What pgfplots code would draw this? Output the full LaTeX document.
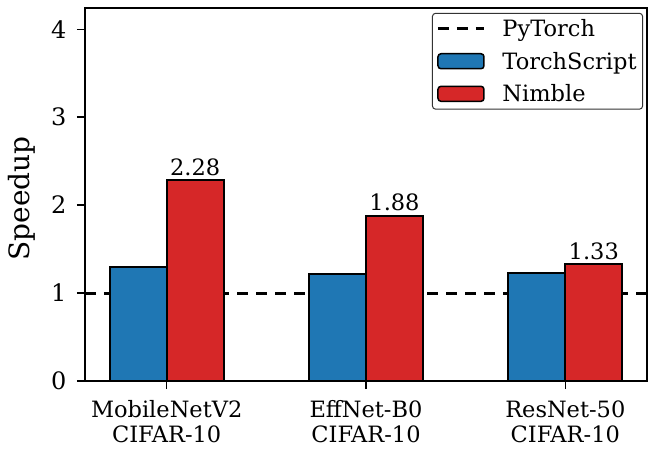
\documentclass[border=0pt]{standalone}
\usepackage{fontspec}
\setmainfont{DejaVu Serif}
\usepackage{pgfplots}
\pgfplotsset{compat=1.18}
\definecolor{tabblue}{HTML}{1F77B4}
\definecolor{tabred}{HTML}{D62728}
\pgfplotsset{
  barleg/.style={legend image code/.code={\draw[##1, line width=1.5pt] (0pt,-7.5pt) rectangle (46pt,7.5pt);\path (61pt,0pt);}},
  lineleg/.style={legend image code/.code={\draw[##1] (0pt,0pt) -- (46pt,0pt);\path (61pt,0pt);}},
}
\begin{document}
\begin{tikzpicture}
\begin{axis}[
    scale only axis,
    width=562pt, height=373pt,
    xmin=-0.41, xmax=2.41,
    ymin=0, ymax=4.24,
    ytick={0,1,2,3,4},
    xtick={0,1,2},
    xticklabels={{MobileNetV2\\CIFAR-10},{EffNet-B0\\CIFAR-10},{ResNet-50\\CIFAR-10}},
    xticklabel style={align=center, font=\fontsize{22.5}{25}\selectfont, yshift=-8pt},
    yticklabel style={font=\fontsize{24}{28}\selectfont, xshift=-7pt},
    /pgf/number format/assume math mode=true,
    ylabel={Speedup},
    ylabel style={font=\fontsize{28}{32}\selectfont, at={(axis description cs:-0.112,0.49)}, anchor=center},
    tick align=outside,
    xtick pos=bottom, ytick pos=left,
    major tick length=8pt,
    tick style={line width=1.2pt, black},
    axis line style={line width=1.2pt},
    ybar, bar width=0.286,
    legend style={at={(0.993,0.987)}, anchor=north east,
        font=\fontsize{22.5}{26}\selectfont, rounded corners=3pt,
        draw=black!80, line width=1pt, row sep=10pt,
        inner xsep=4pt, inner ysep=4pt},
    legend cell align=left,
]
\addplot[sharp plot, black, line width=3pt, dash pattern=on 11pt off 8pt, lineleg] coordinates {(-0.41,1) (2.41,1)};
\addplot[fill=tabblue, draw=black, line width=2pt, bar shift=-0.143, barleg] coordinates {(0,1.30) (1,1.22) (2,1.23)};
\addplot[fill=tabred, draw=black, line width=2pt, bar shift=0.143, barleg,
    nodes near coords, nodes near coords style={font=\fontsize{22.5}{25}\selectfont, black,
    /pgf/number format/.cd, fixed, precision=2, fixed zerofill}] coordinates {(0,2.28) (1,1.88) (2,1.33)};
\legend{PyTorch, TorchScript, Nimble}
\end{axis}
\path (current axis.south west) ++(-85pt,-77pt) (current axis.north east) ++(12pt,8pt);
\end{tikzpicture}
\end{document}
